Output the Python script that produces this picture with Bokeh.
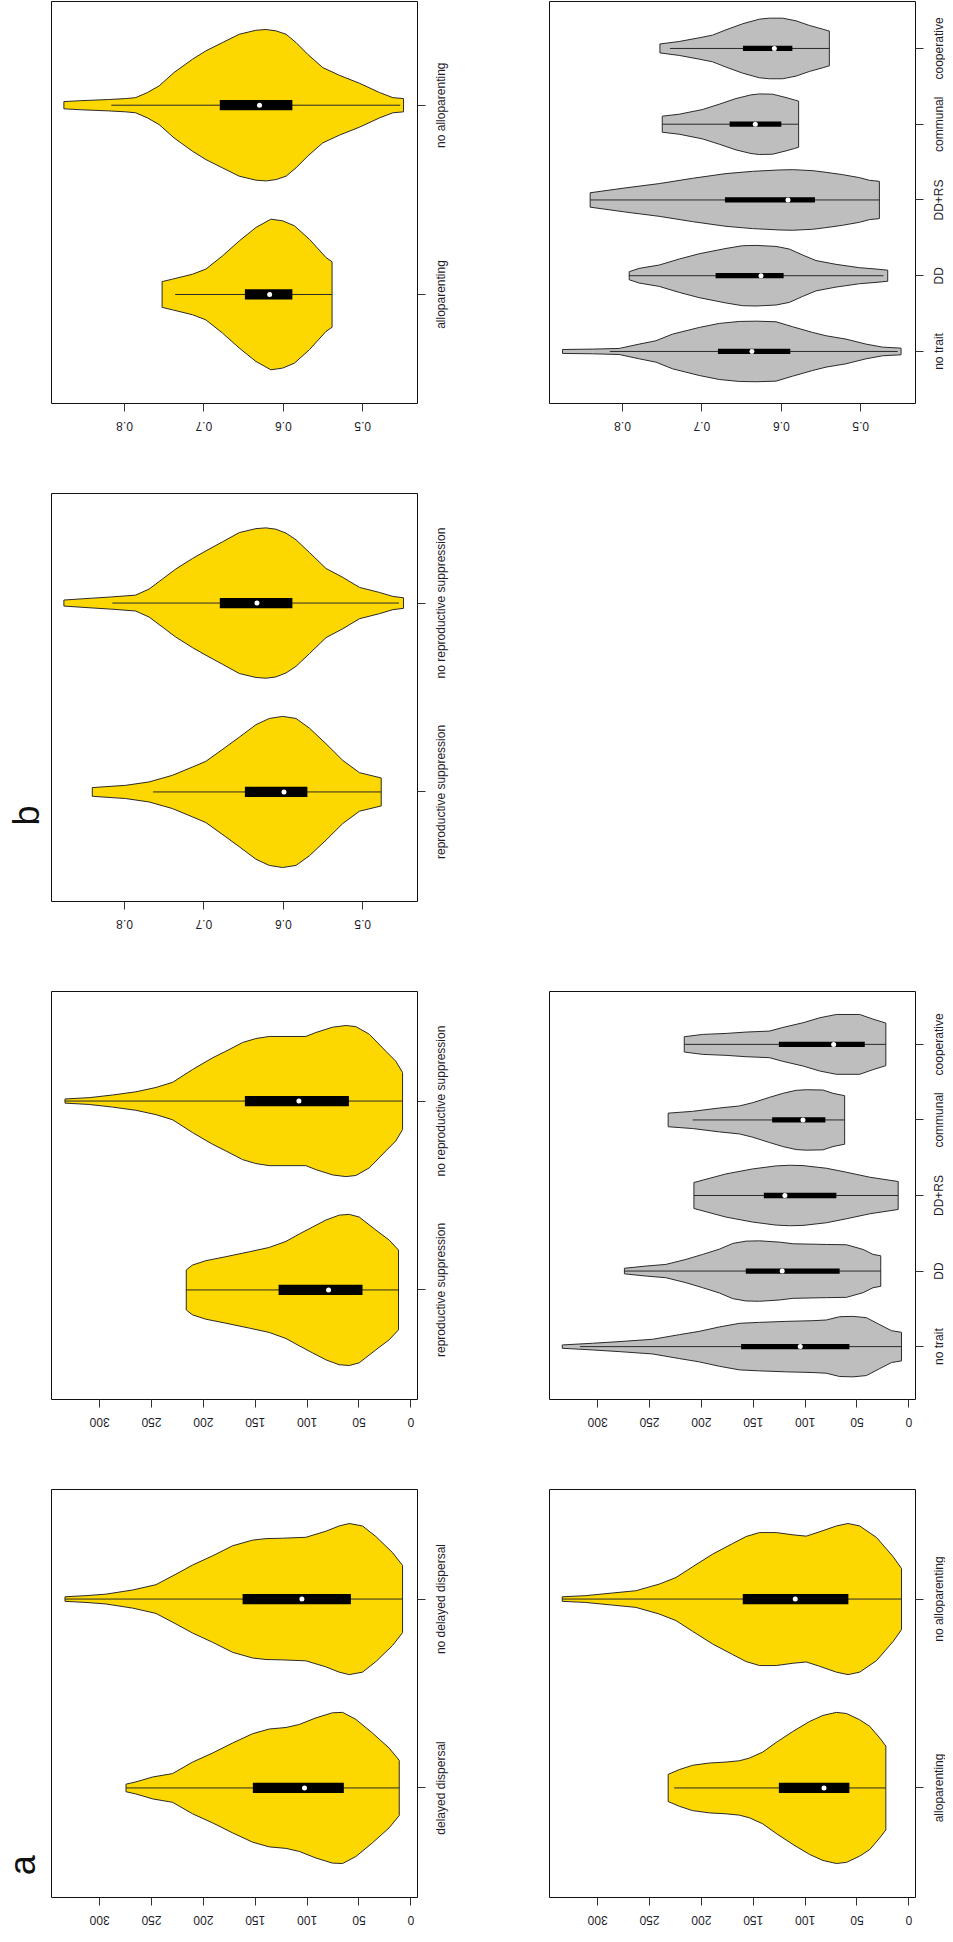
import math
from bokeh.plotting import figure
from bokeh.models import Range1d, FixedTicker, Spacer
from bokeh.layouts import column, row
from bokeh.core.properties import value
from bokeh.embed import file_html
from bokeh.resources import INLINE

# ---------------- data ----------------
count_ticks = [0, 50, 100, 150, 200, 250, 300]
count_tick_labels = ["0", "50", "100", "150", "200", "250", "300"]
prop_ticks = [0.5, 0.6, 0.7, 0.8]
prop_tick_labels = ["0.5", "0.6", "0.7", "0.8"]

# --- panel a: delayed dispersal (counts) ---
dd_cats = ["delayed dispersal", "no delayed dispersal"]
dd_yes_v = [274.6, 265, 248.9, 229.7, 210.4, 191.1, 171.8, 152.6, 136.5, 120.4, 107.6, 91.5, 75.5, 65.8, 53, 36.9, 20.9, 11.2]
dd_yes_w = [0.02, 0.032, 0.058, 0.076, 0.137, 0.185, 0.238, 0.287, 0.312, 0.32, 0.336, 0.371, 0.398, 0.4, 0.363, 0.29, 0.211, 0.146]
dd_no_v = [333.4, 313.2, 293.9, 268.2, 245.7, 226.4, 210.4, 191.1, 171.8, 152.6, 139.7, 123.7, 101.2, 81.9, 69.1, 59.4, 46.6, 33.7, 17.7, 8.0]
dd_no_w = [0.012, 0.018, 0.026, 0.048, 0.076, 0.132, 0.18, 0.229, 0.282, 0.312, 0.32, 0.322, 0.327, 0.359, 0.387, 0.4, 0.387, 0.331, 0.246, 0.178]
dd_hi = [274.6, 333.4]
dd_q3 = [152.3, 162.2]
dd_med = [102.5, 105.0]
dd_q1 = [64.6, 57.8]
dd_lo = [11.2, 8.0]

# --- panel a: reproductive suppression (counts) ---
rs_cats = ["reproductive suppression", "no reproductive suppression"]
rs_yes_v = [216.5, 210.4, 197.5, 178.3, 155.8, 136.5, 120.4, 107.6, 94.8, 81.9, 69.1, 59.4, 49.8, 33.7, 20.9, 11.9]
rs_yes_w = [0.106, 0.132, 0.155, 0.176, 0.202, 0.225, 0.257, 0.296, 0.333, 0.37, 0.396, 0.4, 0.386, 0.317, 0.264, 0.211]
rs_no_v = [333.4, 310, 287.5, 265, 245.7, 229.7, 210.4, 191.1, 178.3, 162.2, 149.4, 136.5, 101.2, 91.5, 75.5, 62.6, 53, 40.1, 24.1, 14.5, 8.0]
rs_no_w = [0.011, 0.018, 0.032, 0.049, 0.072, 0.099, 0.167, 0.229, 0.264, 0.31, 0.331, 0.342, 0.342, 0.363, 0.391, 0.4, 0.394, 0.354, 0.264, 0.211, 0.151]
rs_hi = [216.5, 333.4]
rs_q3 = [127.5, 160.0]
rs_med = [79.3, 107.9]
rs_q1 = [46.6, 59.7]
rs_lo = [11.9, 8.0]

# --- panel a: alloparenting (counts) ---
ap_cats = ["alloparenting", "no alloparenting"]
ap_yes_v = [232, 221.3, 208.4, 192.3, 176.2, 163.3, 153.7, 140.8, 127.9, 111.8, 95.7, 82.8, 69.9, 60.2, 47.4, 37.7, 28, 22.2]
ap_yes_w = [0.072, 0.097, 0.12, 0.132, 0.137, 0.144, 0.158, 0.19, 0.241, 0.299, 0.352, 0.384, 0.4, 0.394, 0.361, 0.326, 0.264, 0.222]
ap_no_v = [334.1, 311.5, 285.8, 263.2, 240.7, 224.5, 208.4, 189.1, 169.8, 156.9, 144, 127.9, 111.8, 98.9, 86, 69.9, 58.6, 47.4, 31.2, 15.1, 7.1]
ap_no_w = [0.012, 0.018, 0.032, 0.044, 0.079, 0.114, 0.171, 0.238, 0.294, 0.331, 0.352, 0.352, 0.34, 0.333, 0.356, 0.387, 0.4, 0.387, 0.326, 0.224, 0.162]
ap_hi = [226.2, 334.1]
ap_q3 = [125.3, 160.1]
ap_med = [81.8, 109.5]
ap_q1 = [57.3, 58.3]
ap_lo = [22.2, 7.1]

# --- panel a: trait combinations (counts) ---
combo_cats = ["no trait", "DD", "DD+RS", "communal", "cooperative"]
cnt_none_v = [334.1, 305.1, 279.3, 247.1, 221.3, 202, 182.7, 163.3, 144, 118.2, 92.5, 79.6, 66.7, 53.8, 40.9, 28, 16.8, 7.1]
cnt_none_w = [0.022, 0.044, 0.066, 0.097, 0.158, 0.202, 0.26, 0.308, 0.321, 0.334, 0.343, 0.352, 0.396, 0.4, 0.383, 0.29, 0.211, 0.189]
cnt_dd_v = [274.2, 253.5, 234.2, 214.9, 198.8, 182.7, 169.8, 156.9, 144, 124.7, 111.8, 79.6, 60.2, 44.1, 34.5, 27.1]
cnt_dd_w = [0.037, 0.066, 0.088, 0.154, 0.22, 0.29, 0.365, 0.396, 0.4, 0.383, 0.361, 0.352, 0.348, 0.286, 0.22, 0.202]
cnt_ddrs_v = [207.2, 176.2, 150.4, 127.9, 115, 102.1, 79.6, 60.2, 37.7, 10.3]
cnt_ddrs_w = [0.172, 0.286, 0.352, 0.392, 0.4, 0.396, 0.361, 0.308, 0.242, 0.185]
cnt_comm_v = [232, 208.4, 182.7, 163.3, 150.4, 134.3, 121.5, 108.6, 98.9, 82.8, 73.1, 61.9]
cnt_comm_w = [0.09, 0.114, 0.158, 0.185, 0.229, 0.299, 0.352, 0.392, 0.4, 0.396, 0.352, 0.321]
cnt_coop_v = [216.5, 198.8, 176.2, 156.9, 134.3, 121.5, 102.1, 86, 69.9, 47.4, 34.5, 22.2]
cnt_coop_w = [0.101, 0.132, 0.145, 0.163, 0.176, 0.224, 0.286, 0.352, 0.396, 0.396, 0.334, 0.282]
cnt_hi = [317.0, 274.2, 207.2, 208.4, 216.5]
cnt_q3 = [161.7, 157.2, 139.8, 131.8, 125.3]
cnt_med = [104.7, 122.1, 119.5, 102.1, 72.5]
cnt_q1 = [57.3, 66.7, 69.9, 80.5, 42.5]
cnt_lo = [7.1, 27.1, 10.3, 61.9, 22.2]

# --- panel b: reproductive suppression (proportion) ---
prs_yes_v = [0.8406, 0.7986, 0.7691, 0.7397, 0.7144, 0.6976, 0.6724, 0.6555, 0.6345, 0.6177, 0.6008, 0.584, 0.5672, 0.5462, 0.5251, 0.5041, 0.4767]
prs_yes_w = [0.023, 0.035, 0.053, 0.088, 0.132, 0.162, 0.238, 0.29, 0.356, 0.389, 0.4, 0.389, 0.338, 0.255, 0.167, 0.102, 0.074]
prs_no_v = [0.8764, 0.8406, 0.8175, 0.786, 0.7691, 0.7523, 0.7355, 0.7144, 0.6976, 0.6766, 0.6555, 0.6345, 0.6219, 0.6093, 0.5966, 0.584, 0.5672, 0.5462, 0.5251, 0.5041, 0.4788, 0.462, 0.4486]
prs_no_w = [0.016, 0.026, 0.032, 0.042, 0.074, 0.127, 0.18, 0.236, 0.276, 0.324, 0.373, 0.394, 0.398, 0.391, 0.37, 0.335, 0.268, 0.183, 0.136, 0.083, 0.056, 0.035, 0.028]
prs_hi = [0.7641, 0.8154]
prs_q3 = [0.6484, 0.68]
prs_med = [0.5992, 0.6332]
prs_q1 = [0.5697, 0.5886]
prs_lo = [0.4767, 0.4544]

# --- panel b: alloparenting (proportion) ---
pap_yes_v = [0.7527, 0.7397, 0.7144, 0.6976, 0.6766, 0.6555, 0.6345, 0.6156, 0.6008, 0.5861, 0.5672, 0.5462, 0.5386]
pap_yes_w = [0.068, 0.081, 0.107, 0.134, 0.204, 0.283, 0.354, 0.398, 0.389, 0.363, 0.292, 0.195, 0.173]
pap_no_v = [0.8764, 0.855, 0.82, 0.7986, 0.786, 0.7712, 0.7565, 0.7376, 0.7144, 0.6976, 0.6766, 0.6555, 0.6345, 0.6219, 0.6093, 0.5966, 0.584, 0.5693, 0.5504, 0.5293, 0.5041, 0.4788, 0.462, 0.4486]
pap_no_w = [0.019, 0.024, 0.03, 0.035, 0.04, 0.067, 0.102, 0.173, 0.243, 0.287, 0.331, 0.375, 0.396, 0.4, 0.393, 0.375, 0.331, 0.269, 0.199, 0.158, 0.116, 0.067, 0.04, 0.035]
pap_hi = [0.7363, 0.8167]
pap_q3 = [0.6484, 0.68]
pap_med = [0.6172, 0.63]
pap_q1 = [0.5886, 0.5886]
pap_lo = [0.5386, 0.4528]

# --- panel b: trait combinations (proportion) ---
prp_none_v = [0.8756, 0.8378, 0.8042, 0.779, 0.758, 0.737, 0.7034, 0.6782, 0.6529, 0.6319, 0.6067, 0.5857, 0.5605, 0.5437, 0.5185, 0.4933, 0.4723, 0.4492]
prp_none_w = [0.026, 0.031, 0.04, 0.097, 0.141, 0.229, 0.317, 0.37, 0.396, 0.4, 0.392, 0.326, 0.251, 0.207, 0.163, 0.097, 0.057, 0.044]
prp_dd_v = [0.7916, 0.779, 0.7538, 0.7286, 0.7034, 0.6697, 0.6487, 0.6319, 0.6067, 0.5899, 0.5731, 0.5563, 0.5311, 0.5017, 0.4807, 0.466]
prp_dd_w = [0.053, 0.097, 0.141, 0.22, 0.29, 0.36, 0.396, 0.4, 0.387, 0.352, 0.273, 0.2, 0.15, 0.106, 0.088, 0.073]
prp_ddrs_v = [0.8408, 0.7958, 0.7538, 0.7118, 0.6697, 0.6361, 0.6025, 0.5857, 0.5605, 0.5437, 0.5227, 0.5017, 0.4891, 0.4765]
prp_ddrs_w = [0.095, 0.16, 0.216, 0.286, 0.348, 0.378, 0.396, 0.4, 0.387, 0.365, 0.334, 0.295, 0.26, 0.246]
prp_comm_v = [0.75, 0.7286, 0.6992, 0.6782, 0.6571, 0.6382, 0.6277, 0.6109, 0.5941, 0.5836, 0.5782]
prp_comm_w = [0.106, 0.132, 0.194, 0.264, 0.339, 0.387, 0.4, 0.396, 0.352, 0.321, 0.304]
prp_coop_v = [0.7529, 0.7286, 0.7034, 0.6866, 0.6697, 0.6487, 0.6277, 0.6151, 0.5983, 0.5815, 0.5647, 0.5479, 0.5395]
prp_coop_w = [0.059, 0.092, 0.141, 0.176, 0.246, 0.326, 0.387, 0.4, 0.4, 0.365, 0.304, 0.255, 0.229]
prp_hi = [0.816, 0.7916, 0.8408, 0.75, 0.7403]
prp_q3 = [0.6798, 0.6828, 0.671, 0.6651, 0.6483]
prp_med = [0.637, 0.6256, 0.5916, 0.6328, 0.6088]
prp_q1 = [0.5887, 0.5971, 0.5576, 0.6, 0.5861]
prp_lo = [0.4534, 0.4714, 0.4765, 0.5782, 0.5395]

panel_letters = ["a", "b"]

# ---------------- styling / layout ----------------
GOLD = "#FDD700"
GREY = "#BEBEBE"
TXT = "#1c1c2a"
FONT = "Liberation Sans"
EDGE = "#2a2a2a"

LETTER_W = 50          # strip for the panel letters
LPANEL = (1, 366, 10)  # left border, frame width, right border (left column)
RPANEL = (51, 366, 10) # (right column)
LLAB_W = 71            # category-label strip after left panel
RLAB_W = 20            # category-label strip after right panel
BOT = 10               # border under frame (ticks)
LAB_OFF = 13           # label centre distance into strips


def base_fig(width, height, xr, yr, left, right, top, bottom, axes=False):
    if not axes:
        kw = dict(x_axis_location=None, y_axis_location=None)
    else:
        kw = dict(y_axis_location="right")
    f = figure(width=width, height=height, x_range=xr, y_range=yr,
               output_backend="svg", toolbar_location=None,
               min_border_left=left, min_border_right=right,
               min_border_top=top, min_border_bottom=bottom, **kw)
    f.grid.visible = False
    f.background_fill_color = "white"
    f.border_fill_color = "white"
    return f


def make_cell(cats, shapes, hi, q3, med, q1, lo, fill, xr, ticks, tick_labels, yr, box_half,
              geom, top, frame_h, strip_h, lab_w):
    left, fw, right = geom
    pw = left + fw + right
    ph = top + frame_h + BOT
    xrange = Range1d(xr[0], xr[1])
    yrange = Range1d(yr[0], yr[1])
    p = base_fig(pw, ph, xrange, yrange, left, right, top, BOT, axes=True)
    p.outline_line_color = "#111111"
    p.outline_line_width = 1

    for i, (vals, halfs) in enumerate(shapes):
        c = i + 1
        xs = list(vals) + list(vals)[::-1]
        ys = [c + w for w in halfs] + [c - w for w in halfs][::-1]
        p.patch(xs, ys, fill_color=fill, line_color=EDGE, line_width=1)

    centers = list(range(1, len(cats) + 1))
    p.segment(x0=lo, x1=hi, y0=centers, y1=centers, line_color=EDGE, line_width=1)
    p.quad(left=q3, right=q1, bottom=[c - box_half for c in centers],
           top=[c + box_half for c in centers], fill_color="black", line_color=None)
    p.scatter(x=med, y=centers, size=5, fill_color="white", line_color=None)

    # axes carry the tick marks; their texts are set in the strips below / beside
    for ax, tk in ((p.xaxis[0], ticks), (p.yaxis[0], centers)):
        ax.ticker = FixedTicker(ticks=tk)
        ax.major_tick_out = 8
        ax.major_tick_in = 0
        ax.minor_tick_line_color = None
        ax.axis_line_color = None
        ax.major_tick_line_color = "#333333"
        ax.major_label_standoff = 0
        ax.major_label_text_font_size = "0px"
        ax.major_label_text_color = None

    # tick labels of the value axis (upside down, as on the turned page)
    bot = base_fig(pw, strip_h, xrange, Range1d(0, strip_h), left, right, 0, 0)
    bot.outline_line_color = None
    bot.text(x=ticks, y=[strip_h - LAB_OFF] * len(ticks), text=tick_labels,
             angle=math.pi, text_align="center", text_baseline="middle",
             text_font=value(FONT), text_font_size="12px", text_color=TXT)

    # category labels (reading bottom-to-top)
    lab = base_fig(lab_w, ph + strip_h, Range1d(0, lab_w), yrange, 0, 0, top, BOT + strip_h)
    lab.outline_line_color = None
    lab.text(x=[LAB_OFF + 0.3] * len(cats), y=centers, text=cats,
             angle=math.pi / 2, text_align="center", text_baseline="middle",
             text_font=value(FONT), text_font_size="12px", text_color=TXT)
    return column(p, bot), lab


def letter_strip(height, letter=None, lx=0, ly=0):
    f = base_fig(LETTER_W, height, Range1d(0, LETTER_W), Range1d(0, height), 0, 0, 0, 0)
    f.outline_line_color = None
    if letter is not None:
        f.text(x=[lx], y=[ly], text=[letter], angle=math.pi / 2,
               text_align="center", text_baseline="middle",
               text_font=value(FONT), text_font_size="36px", text_color="#111111")
    return f


cnt_range = (346.4, -6.4)
prp_range = (0.892, 0.431)

# Row 1 (top): proportions -- alloparenting, trait combinations
T1, F1, S1 = 1, 402, 50
c11, l11 = make_cell(ap_cats, [(pap_yes_v, pap_yes_w), (pap_no_v, pap_no_w)],
                     pap_hi, pap_q3, pap_med, pap_q1, pap_lo, GOLD, prp_range, prop_ticks, prop_tick_labels,
                     (0.424, 2.548), 0.027, LPANEL, T1, F1, S1, LLAB_W)
c12, l12 = make_cell(combo_cats, [(prp_none_v, prp_none_w), (prp_dd_v, prp_dd_w), (prp_ddrs_v, prp_ddrs_w),
                                  (prp_comm_v, prp_comm_w), (prp_coop_v, prp_coop_w)],
                     prp_hi, prp_q3, prp_med, prp_q1, prp_lo, GREY, prp_range, prop_ticks, prop_tick_labels,
                     (0.313, 5.62), 0.035, RPANEL, T1, F1, S1, RLAB_W)
H1 = T1 + F1 + BOT + S1
row1 = row(letter_strip(H1), c11, l11, c12, l12)

# Row 2: proportion -- reproductive suppression (panel b)
T2, F2, S2 = 30, 408, 50
c21, l21 = make_cell(rs_cats, [(prs_yes_v, prs_yes_w), (prs_no_v, prs_no_w)],
                     prs_hi, prs_q3, prs_med, prs_q1, prs_lo, GOLD, prp_range, prop_ticks, prop_tick_labels,
                     (0.42, 2.58), 0.027, LPANEL, T2, F2, S2, LLAB_W)
H2 = T2 + F2 + BOT + S2
row2 = row(letter_strip(H2, panel_letters[1], 26.2, 105), c21, l21,
           Spacer(width=sum(RPANEL) + RLAB_W, height=H2))

# Row 3: counts -- reproductive suppression, trait combinations
T3, F3, S3 = 30, 408, 50
c31, l31 = make_cell(rs_cats, [(rs_yes_v, rs_yes_w), (rs_no_v, rs_no_w)],
                     rs_hi, rs_q3, rs_med, rs_q1, rs_lo, GOLD, cnt_range, count_ticks, count_tick_labels,
                     (0.42, 2.58), 0.027, LPANEL, T3, F3, S3, LLAB_W)
c32, l32 = make_cell(combo_cats, [(cnt_none_v, cnt_none_w), (cnt_dd_v, cnt_dd_w), (cnt_ddrs_v, cnt_ddrs_w),
                                  (cnt_comm_v, cnt_comm_w), (cnt_coop_v, cnt_coop_w)],
                     cnt_hi, cnt_q3, cnt_med, cnt_q1, cnt_lo, GREY, cnt_range, count_ticks, count_tick_labels,
                     (0.3, 5.7), 0.035, RPANEL, T3, F3, S3, RLAB_W)
H3 = T3 + F3 + BOT + S3
row3 = row(letter_strip(H3), c31, l31, c32, l32)

# Row 4 (bottom): counts -- delayed dispersal, alloparenting (panel a)
T4, F4, S4 = 30, 408, 19
c41, l41 = make_cell(dd_cats, [(dd_yes_v, dd_yes_w), (dd_no_v, dd_no_w)],
                     dd_hi, dd_q3, dd_med, dd_q1, dd_lo, GOLD, cnt_range, count_ticks, count_tick_labels,
                     (0.42, 2.58), 0.027, LPANEL, T4, F4, S4, LLAB_W)
c42, l42 = make_cell(ap_cats, [(ap_yes_v, ap_yes_w), (ap_no_v, ap_no_w)],
                     ap_hi, ap_q3, ap_med, ap_q1, ap_lo, GOLD, cnt_range, count_ticks, count_tick_labels,
                     (0.42, 2.58), 0.027, RPANEL, T4, F4, S4, RLAB_W)
H4 = T4 + F4 + BOT + S4
row4 = row(letter_strip(H4, panel_letters[0], 21.5, 37), c41, l41, c42, l42)

layout = column(row1, row2, row3, row4)

open("out.html", "w").write(file_html(layout, INLINE))
